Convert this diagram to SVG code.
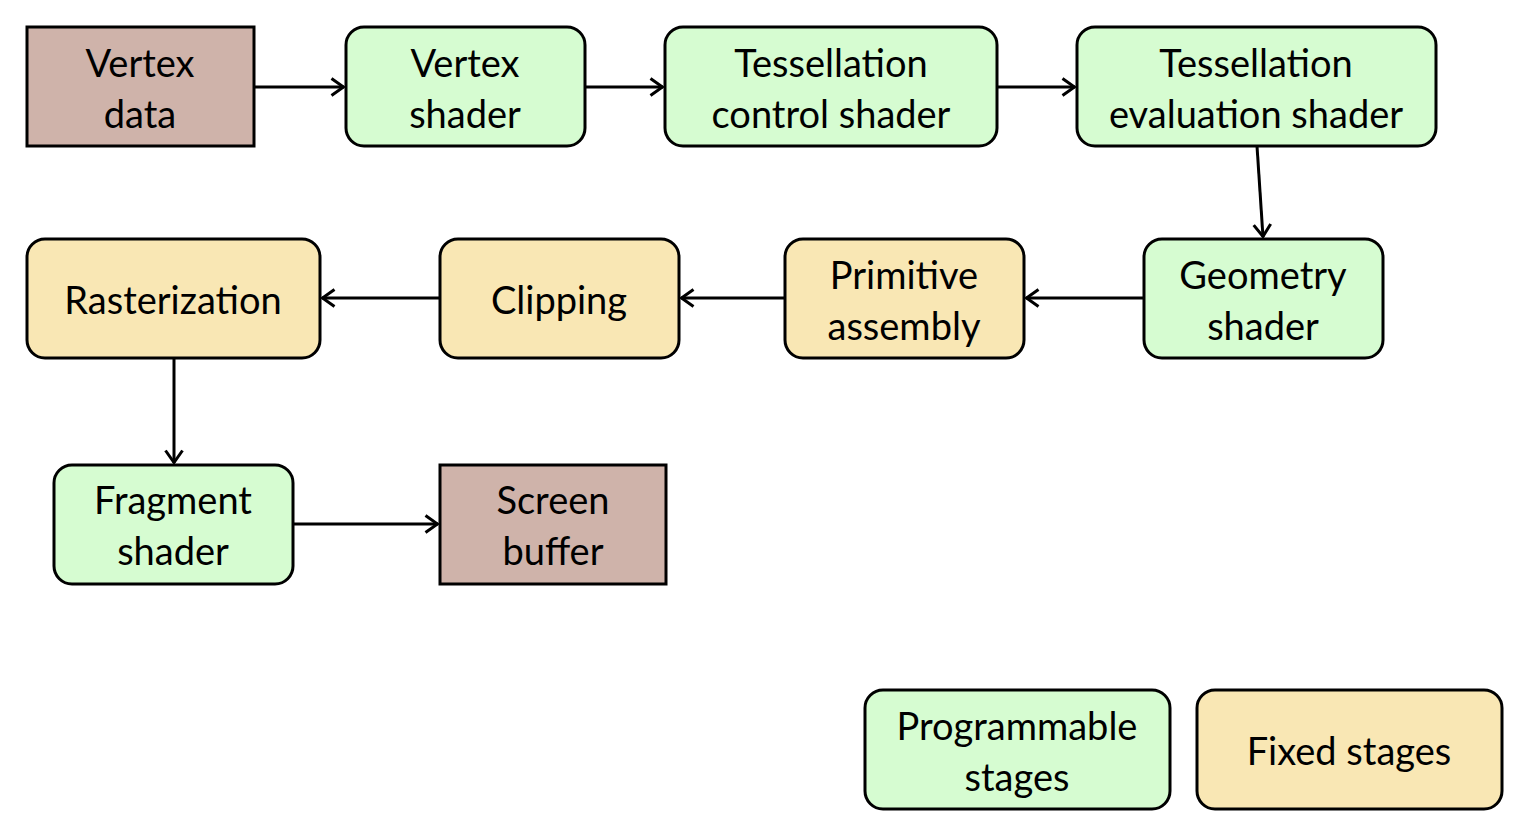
<svg xmlns="http://www.w3.org/2000/svg" width="1520" height="826" viewBox="0 0 1520 826">
<style>
.box{stroke:#000;stroke-width:3}
.prog{fill:#d6fcd1}
.fixed{fill:#f9e7b4}
.io{fill:#cfb3aa}
text{font-family:Lato,"Open Sans","Liberation Sans",sans-serif;font-size:38px;fill:#000;text-anchor:middle}
.edge{stroke:#000;stroke-width:3;fill:none;marker-end:url(#arr)}
</style>
<defs>
<marker id="arr" viewBox="0 0 16 20" refX="14.5" refY="10" markerWidth="16" markerHeight="20" markerUnits="userSpaceOnUse" orient="auto">
<path d="M2,1.5 L14,10 L2,18.5" fill="none" stroke="#000" stroke-width="3"/>
</marker>
</defs>
<rect width="1520" height="826" fill="#fff"/>
<g id="connectors">
<path class="edge" d="M254,87 H344"/>
<path class="edge" d="M585,87 H663"/>
<path class="edge" d="M997,87 H1075"/>
<path class="edge" d="M1257,146 L1263,237"/>
<path class="edge" d="M1144,298 H1026"/>
<path class="edge" d="M785,298 H681"/>
<path class="edge" d="M440,298 H322"/>
<path class="edge" d="M174,358 V463"/>
<path class="edge" d="M293,524 H438"/>
</g>
<g id="vertex-data"><rect class="box io" x="27" y="27" width="227" height="119"/><text x="140" y="77">Vertex</text><text x="140" y="128">data</text></g>
<g id="vertex-shader"><rect class="box prog" x="346" y="27" width="239" height="119" rx="18"/><text x="465" y="77">Vertex</text><text x="465" y="128">shader</text></g>
<g id="tess-control"><rect class="box prog" x="665" y="27" width="332" height="119" rx="18"/><text x="831" y="77">Tessellation</text><text x="831" y="128">control shader</text></g>
<g id="tess-eval"><rect class="box prog" x="1077" y="27" width="359" height="119" rx="18"/><text x="1256" y="77">Tessellation</text><text x="1256" y="128">evaluation shader</text></g>
<g id="geometry-shader"><rect class="box prog" x="1144" y="239" width="239" height="119" rx="18"/><text x="1263" y="289">Geometry</text><text x="1263" y="340">shader</text></g>
<g id="primitive-assembly"><rect class="box fixed" x="785" y="239" width="239" height="119" rx="18"/><text x="904" y="289">Primitive</text><text x="904" y="340">assembly</text></g>
<g id="clipping"><rect class="box fixed" x="440" y="239" width="239" height="119" rx="18"/><text x="559" y="314">Clipping</text></g>
<g id="rasterization"><rect class="box fixed" x="27" y="239" width="293" height="119" rx="18"/><text x="173" y="314">Rasterization</text></g>
<g id="fragment-shader"><rect class="box prog" x="54" y="465" width="239" height="119" rx="18"/><text x="173" y="514">Fragment</text><text x="173" y="565">shader</text></g>
<g id="screen-buffer"><rect class="box io" x="440" y="465" width="226" height="119"/><text x="553" y="514">Screen</text><text x="553" y="565">buffer</text></g>
<g id="legend-programmable"><rect class="box prog" x="865" y="690" width="305" height="119" rx="18"/><text x="1017" y="740">Programmable</text><text x="1017" y="791">stages</text></g>
<g id="legend-fixed"><rect class="box fixed" x="1197" y="690" width="305" height="119" rx="18"/><text x="1349" y="765">Fixed stages</text></g>
</svg>
